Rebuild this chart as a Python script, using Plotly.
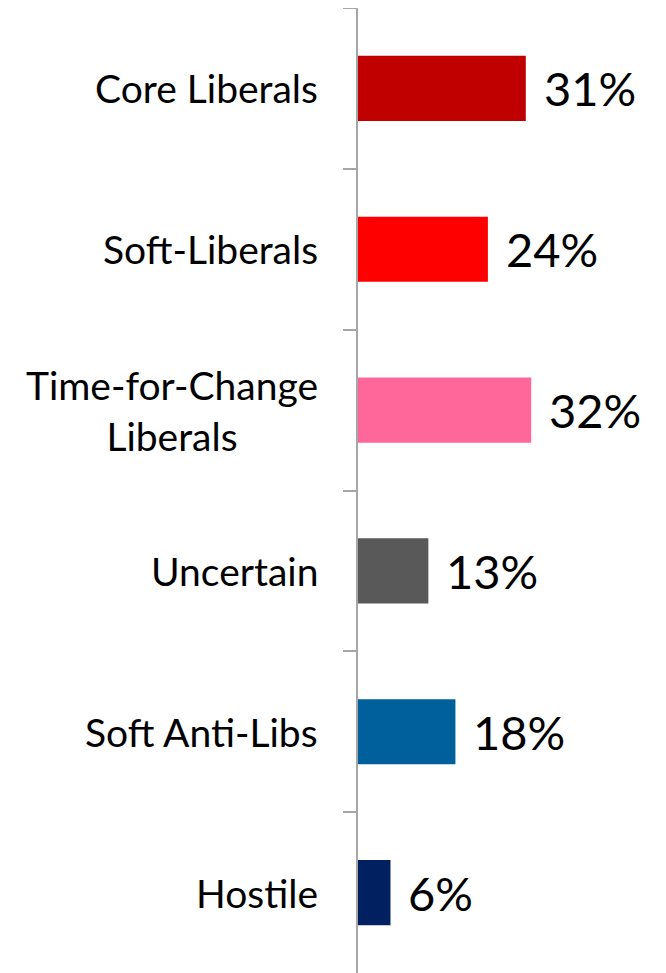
import plotly.graph_objects as go

categories = ["Core Liberals", "Soft-Liberals", "Time-for-Change<br>Liberals",
              "Uncertain", "Soft Anti-Libs", "Hostile"]
values = [31, 24, 32, 13, 18, 6]
value_labels = ["31%", "24%", "32%", "13%", "18%", "6%"]
colors = ["#C00000", "#FF0000", "#FF6699", "#595959", "#00609C", "#002060"]

FONT = "Lato"

fig = go.Figure()
fig.add_trace(go.Bar(
    x=values, y=categories, orientation="h",
    marker=dict(color=colors, line=dict(width=0)),
    width=0.405,
    hoverinfo="skip",
))

annotations = []
for c, v, t in zip(categories, values, value_labels):
    annotations.append(dict(
        x=v, y=c, xref="x", yref="y", text=t, showarrow=False,
        xanchor="left", yanchor="middle", xshift=16, yshift=0,
        font=dict(family=FONT, size=47, color="#000000"),
    ))
    annotations.append(dict(
        x=0, y=c, xref="paper", yref="y", text=c, showarrow=False,
        xanchor="right", yanchor="middle", xshift=-38, align="center",
        font=dict(family=FONT, size=39, color="#000000"),
    ))

fig.update_layout(
    width=658, height=965,
    margin=dict(l=350, r=0, t=0, b=0),
    paper_bgcolor="white", plot_bgcolor="white",
    showlegend=False,
    annotations=annotations,
    xaxis=dict(range=[0, 56.9], visible=False, fixedrange=True),
    yaxis=dict(
        type="category", autorange="reversed",
        showticklabels=False, tickson="boundaries",
        ticks="outside", ticklen=13, tickwidth=2, tickcolor="#A6A6A6",
        showline=True, linecolor="#A6A6A6", linewidth=2,
        showgrid=False, zeroline=False, fixedrange=True,
    ),
)

fig.write_html("out.html")
